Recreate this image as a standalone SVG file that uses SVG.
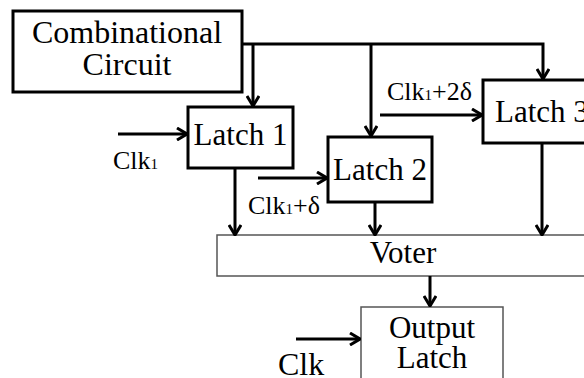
<svg xmlns="http://www.w3.org/2000/svg" width="584" height="378" viewBox="0 0 584 378">
  <defs>
    <style>
      .box { fill: #fff; stroke: #000; stroke-width: 3; }
      .thin { fill: #fff; stroke: #555; stroke-width: 1.5; }
      .t { font-family: "Liberation Serif", "Times New Roman", serif; font-size: 31px; fill: #000; }
      .big { font-size: 32px; }
      .lbl { font-family: "Liberation Serif", "Times New Roman", serif; font-size: 26px; fill: #000; }
      .sub { font-size: 15px; }
      .wire { fill: none; stroke: #000; stroke-width: 3; }
    </style>
    <marker id="arr" markerUnits="userSpaceOnUse" viewBox="0 0 12 14" refX="11" refY="7" markerWidth="12" markerHeight="14" orient="auto">
      <path d="M1,1 L11,7 L1,13" fill="none" stroke="#000" stroke-width="3"/>
    </marker>
  </defs>
  <rect width="584" height="378" fill="#fff"/>

  <g id="combinational">
    <rect class="box" x="13" y="11" width="229" height="81"/>
    <text class="t big" x="127" y="43" text-anchor="middle">Combinational</text>
    <text class="t big" x="127" y="75" text-anchor="middle">Circuit</text>
  </g>

  <g id="latch1">
    <rect class="box" x="188" y="107" width="105" height="61"/>
    <text class="t" x="240.5" y="145" text-anchor="middle">Latch 1</text>
  </g>

  <g id="latch2">
    <rect class="box" x="328" y="137" width="104" height="65"/>
    <text class="t" x="380" y="180" text-anchor="middle">Latch 2</text>
  </g>

  <g id="latch3">
    <rect class="box" x="483" y="80" width="110" height="63"/>
    <text class="t" x="495" y="122">Latch 3</text>
  </g>

  <g id="voter">
    <rect class="thin" x="217" y="235" width="380" height="41"/>
    <text class="t" x="403" y="263" text-anchor="middle">Voter</text>
  </g>

  <g id="output-latch">
    <rect class="thin" x="361" y="307" width="142" height="80"/>
    <text class="t" x="432" y="338" text-anchor="middle">Output</text>
    <text class="t" x="432" y="368" text-anchor="middle">Latch</text>
  </g>

  <g id="connectors">
    <path class="wire" d="M242,44 H543 V79" marker-end="url(#arr)"/>
    <path class="wire" d="M253,44 V106" marker-end="url(#arr)"/>
    <path class="wire" d="M371,44 V136" marker-end="url(#arr)"/>
    <path class="wire" d="M118,134 H187" marker-end="url(#arr)"/>
    <path class="wire" d="M235,168 V235" marker-end="url(#arr)"/>
    <path class="wire" d="M258,178 H327" marker-end="url(#arr)"/>
    <path class="wire" d="M375,202 V235" marker-end="url(#arr)"/>
    <path class="wire" d="M380,115 H482" marker-end="url(#arr)"/>
    <path class="wire" d="M542,143 V235" marker-end="url(#arr)"/>
    <path class="wire" d="M430,276 V306" marker-end="url(#arr)"/>
    <path class="wire" d="M296,339 H360" marker-end="url(#arr)"/>
  </g>

  <g id="labels">
    <text class="lbl" x="113" y="169">Clk<tspan class="sub">1</tspan></text>
    <text class="lbl" x="248" y="214">Clk<tspan class="sub">1</tspan>+δ</text>
    <text class="lbl" x="387" y="100">Clk<tspan class="sub">1</tspan>+2δ</text>
    <text class="t big" x="278" y="375">Clk</text>
  </g>
</svg>
